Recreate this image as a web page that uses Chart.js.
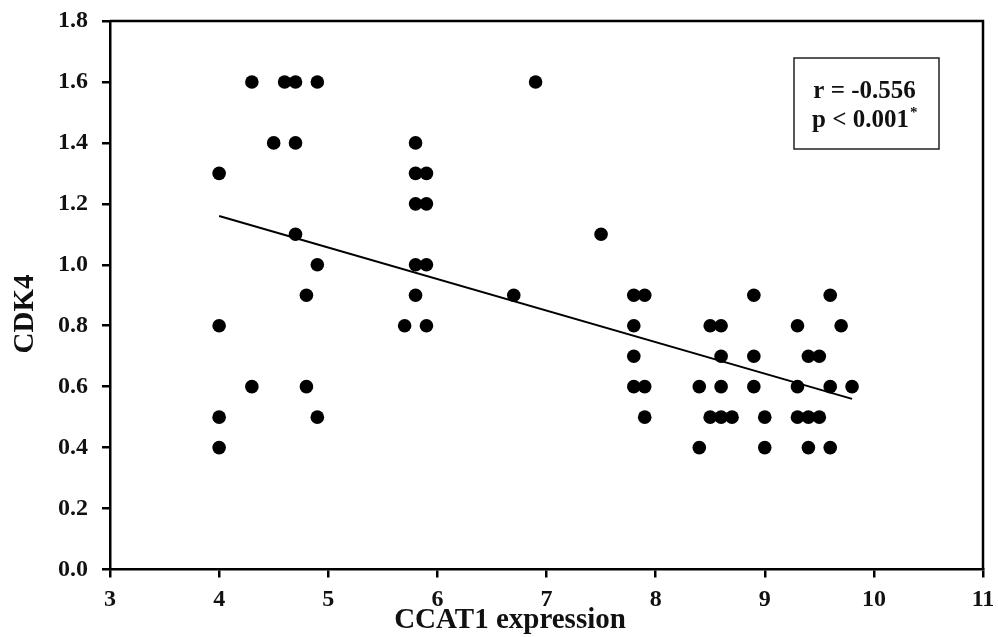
<!DOCTYPE html>
<html>
<head>
<meta charset="utf-8">
<script src="https://cdn.jsdelivr.net/npm/chart.js@4"></script>
<style>
html,body{margin:0;padding:0;background:#fff;}
#wrap{width:998px;height:637px;}
</style>
</head>
<body>
<div id="wrap"><canvas id="c" width="998" height="637"></canvas></div>
<script>
// Data
const ccat1 = [4.0,4.0,4.0,4.0,4.3,4.3,4.5,4.6,4.7,4.7,4.9,4.7,4.9,4.8,4.8,4.9,
  5.8,5.8,5.9,5.8,5.9,5.8,5.9,5.8,5.7,5.9,
  6.7,6.9,7.5,
  7.8,7.9,7.8,7.8,7.8,7.9,7.9,
  8.4,8.4,8.5,8.6,8.6,8.6,8.5,8.6,8.7,
  8.9,8.9,8.9,9.0,9.0,
  9.3,9.3,9.3,9.4,9.5,9.4,9.5,9.4,
  9.6,9.6,9.6,9.7,9.8];
const cdk4 = [1.3,0.8,0.5,0.4,1.6,0.6,1.4,1.6,1.6,1.4,1.6,1.1,1.0,0.9,0.6,0.5,
  1.4,1.3,1.3,1.2,1.2,1.0,1.0,0.9,0.8,0.8,
  0.9,1.6,1.1,
  0.9,0.9,0.8,0.7,0.6,0.6,0.5,
  0.6,0.4,0.8,0.8,0.7,0.6,0.5,0.5,0.5,
  0.9,0.7,0.6,0.5,0.4,
  0.8,0.6,0.5,0.7,0.7,0.5,0.5,0.4,
  0.9,0.6,0.4,0.8,0.6];
const fitX = [4.0, 9.8];
const fitY = [1.16, 0.56];
const xTitle = 'CCAT1 expression';
const yTitle = 'CDK4';
const statLines = ['r = -0.556', 'p < 0.001'];

const serif = '"Liberation Serif", "Times New Roman", serif';

const points = ccat1.map((x,i)=>({x:x, y:cdk4[i]}));
const fit = fitX.map((x,i)=>({x:x, y:fitY[i]}));

const decor = {
  id:'decor',
  afterDraw(chart){
    const ctx = chart.ctx, a = chart.chartArea;
    ctx.save();
    // frame top & right
    ctx.strokeStyle = '#000';
    ctx.lineWidth = 2.5;
    ctx.beginPath();
    ctx.moveTo(a.left, a.top);
    ctx.lineTo(a.right, a.top);
    ctx.lineTo(a.right, a.bottom);
    ctx.stroke();
    // axis titles
    ctx.fillStyle = '#111';
    ctx.font = 'bold 29px ' + serif;
    ctx.textAlign = 'center';
    ctx.textBaseline = 'alphabetic';
    ctx.fillText(xTitle, 510, 628);
    ctx.save();
    ctx.translate(33, 314);
    ctx.rotate(-Math.PI/2);
    ctx.fillText(yTitle, 0, 0);
    ctx.restore();
    // stats box
    const bx = 794, by = 58, bw = 145, bh = 91;
    ctx.lineWidth = 1.5;
    ctx.strokeStyle = '#222';
    ctx.strokeRect(bx, by, bw, bh);
    ctx.font = 'bold 25px ' + serif;
    ctx.textAlign = 'center';
    ctx.fillText(statLines[0], bx + bw/2 - 2, 98);
    const w = ctx.measureText(statLines[1]).width;
    const sx = bx + bw/2 - 6;
    ctx.fillText(statLines[1], sx, 127);
    ctx.font = 'bold 15px ' + serif;
    ctx.textAlign = 'left';
    ctx.fillText('*', sx + w/2 + 1, 117);
    ctx.restore();
  }
};

function noPad(s){ s.paddingTop = 0; s.paddingBottom = 0; s.paddingLeft = 0; s.paddingRight = 0; }

new Chart(document.getElementById('c'), {
  type:'scatter',
  data:{
    datasets:[
      {data:points, backgroundColor:'#000', borderColor:'#000', pointRadius:6.8, pointHoverRadius:6.8, borderWidth:0, order:1},
      {type:'line', data:fit, borderColor:'#000', borderWidth:2, pointRadius:0, fill:false, showLine:true, order:2}
    ]
  },
  plugins:[decor],
  options:{
    responsive:false,
    animation:false,
    events:[],
    layout:{padding:{top:21, right:15, left:0, bottom:0}},
    plugins:{legend:{display:false}, tooltip:{enabled:false}},
    scales:{
      x:{
        type:'linear', min:3, max:11,
        afterFit(s){ s.height = 67.5; noPad(s); },
        ticks:{stepSize:1, color:'#111', font:{family:serif, weight:'bold', size:24}, padding:8},
        grid:{drawOnChartArea:false, drawTicks:true, tickLength:8, color:'#000', lineWidth:2.5},
        border:{display:true, color:'#000', width:2.5}
      },
      y:{
        type:'linear', min:0, max:1.8,
        afterFit(s){ s.width = 110; noPad(s); },
        ticks:{stepSize:0.2, color:'#111', font:{family:serif, weight:'bold', size:24}, padding:14,
          callback:(v)=>Number(v).toFixed(1)},
        grid:{drawOnChartArea:false, drawTicks:true, tickLength:8, color:'#000', lineWidth:2.5},
        border:{display:true, color:'#000', width:2.5}
      }
    }
  }
});
</script>
</body>
</html>
